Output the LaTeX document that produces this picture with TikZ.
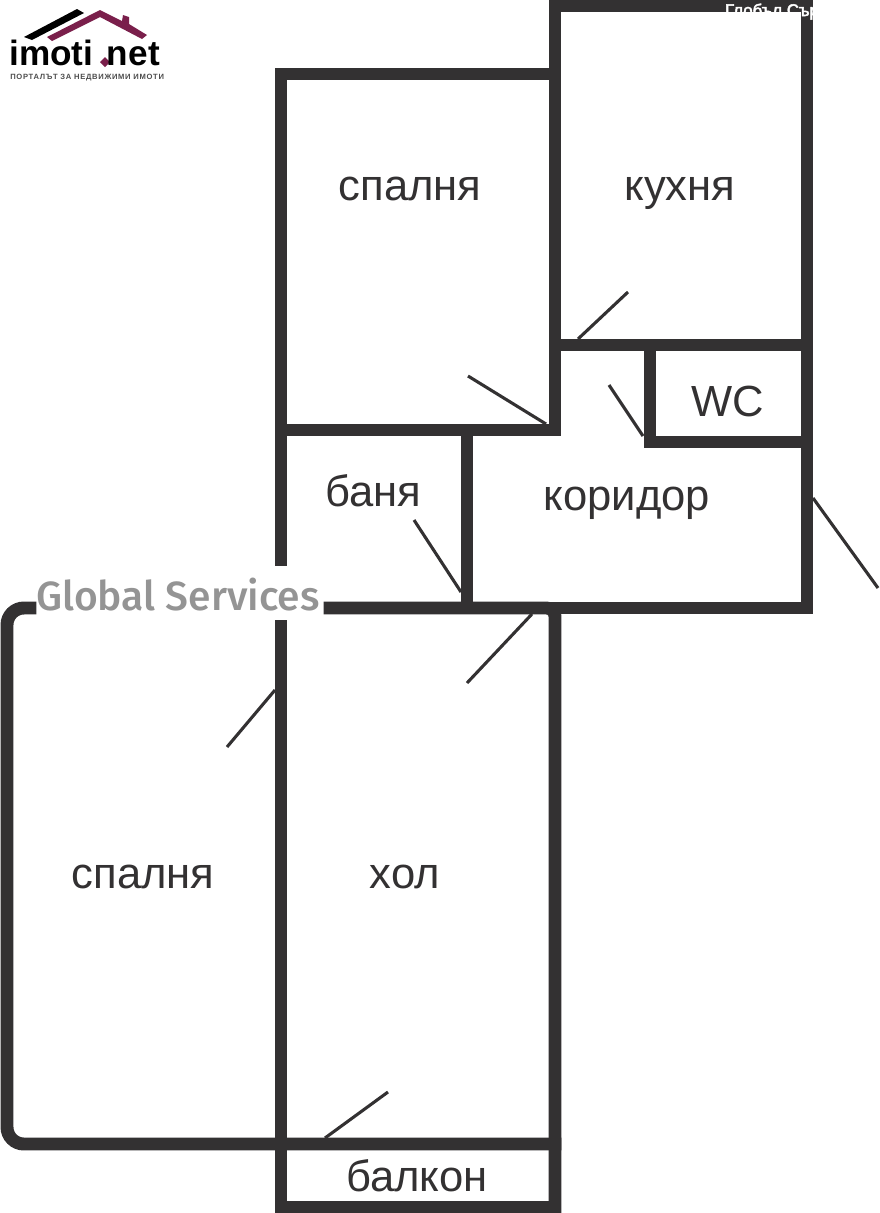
\documentclass[tikz,border=0pt]{standalone}
\usepackage{fontspec}
\setmainfont{Liberation Sans}
\newfontfamily\globalfont{Fira Sans Medium}
\newfontfamily\spacedfont[LetterSpace=9,BoldFont={Liberation Sans Bold}]{Liberation Sans}
\definecolor{wallgray}{HTML}{333132}
\definecolor{roofred}{HTML}{7A1F4B}
\begin{document}
\begin{tikzpicture}[x=0.025cm, y=-0.025cm]
\tikzset{wall/.style={draw=wallgray, line width=9.2pt, line cap=rect}}
\tikzset{doorleaf/.style={draw=wallgray, line width=2.2pt}}
\tikzset{roomlabel/.style={anchor=base, inner sep=0pt, text=wallgray, font=\fontsize{31}{31}\selectfont}}
\useasboundingbox (0, 0) rectangle (880, 1213);
% walls
\draw[wall] (555, 74) -- (281, 74) -- (281, 560);
\draw[wall] (555, 430) -- (555, 6) -- (807, 6) -- (807, 608) -- (555, 608);
\draw[wall] (555, 345) -- (807, 345);
\draw[wall] (650, 345) -- (650, 442) -- (807, 442);
\draw[wall] (281, 430) -- (555, 430);
\draw[wall] (467, 430) -- (467, 608);
\draw[wall] (281, 626) -- (281, 1207) -- (555, 1207);
\draw[wall, rounded corners=6pt] (330, 608) -- (555, 608) -- (555, 1207);
\draw[wall, rounded corners=12pt] (30, 608) -- (7, 608) -- (7, 1144) -- (555, 1144);
% doors
\draw[doorleaf] (578, 339) -- (628, 292);
\draw[doorleaf] (546, 424) -- (468, 376);
\draw[doorleaf] (643, 436) -- (609, 385);
\draw[doorleaf] (461, 592) -- (414, 520);
\draw[doorleaf] (532, 614) -- (467, 683);
\draw[doorleaf] (275, 690) -- (227, 747);
\draw[doorleaf] (325, 1138) -- (388, 1092);
\draw[doorleaf] (813, 498) -- (878, 588);
% rooms
\node[roomlabel] (bedroomA) at (410, 200) {спалня};
\node[roomlabel] (kitchen) at (680, 200) {кухня};
\node[roomlabel] (wc) at (728, 416) {WC};
\node[roomlabel] (bath) at (373, 506) {баня};
\node[roomlabel] (hallway) at (627, 510) {коридор};
\node[roomlabel] (bedroomB) at (143, 888) {спалня};
\node[roomlabel] (living) at (405, 888) {хол};
\node[roomlabel] (balcony) at (417, 1191) {балкон};
% watermarks
\node[anchor=base, inner sep=0pt, text=black!42, font=\globalfont\fontsize{29}{29}\selectfont] (brand) at (178, 610) {Global Services};
\node[anchor=base, inner sep=0pt, font=\fontsize{12}{12}\selectfont] (brandtop) at (794, 16) {\special{pdf:code 2 Tr 0.35 w 0 0 0 RG}\textcolor{white}{Глобъл Сървисиз}\special{pdf:code 0 Tr}};
% logo
\fill[black] (24, 37) -- (77, 9) -- (84, 13) -- (32, 40) -- cycle;
\fill[roofred] (47, 37) -- (100, 10) -- (122, 21) -- (123, 15) -- (129, 17) -- (129, 24) -- (147, 35) -- (142, 39) -- (100, 17) -- (52, 41) -- cycle;
\fill[roofred] (105, 57) -- (110, 62) -- (105, 67) -- (100, 62) -- cycle;
\node[anchor=base west, inner sep=0pt, font=\bfseries\fontsize{25}{25}\selectfont] (logoA) at (9, 65) {imoti};
\node[anchor=base east, inner sep=0pt, font=\bfseries\fontsize{25}{25}\selectfont] (logoB) at (160, 65) {net};
\node[anchor=base west, inner sep=0pt, text=black!70, font=\spacedfont\bfseries\fontsize{5.4}{5.4}\selectfont] (logoC) at (10, 79) {ПОРТАЛЪТ ЗА НЕДВИЖИМИ ИМОТИ};
\end{tikzpicture}
\end{document}
